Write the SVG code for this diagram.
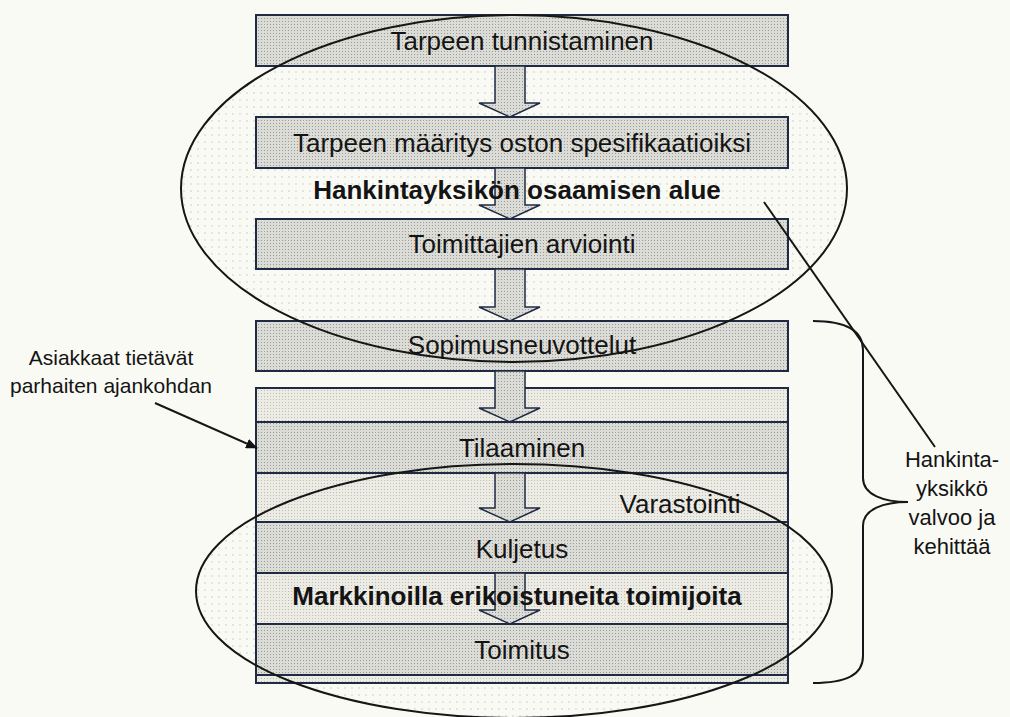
<svg xmlns="http://www.w3.org/2000/svg" width="1010" height="717" viewBox="0 0 1010 717">
  <defs>
    <pattern id="dense" width="3" height="3" patternUnits="userSpaceOnUse">
      <rect width="3" height="3" fill="#dcdcd6"/>
      <rect width="1" height="1" fill="#9a9a9a"/>
    </pattern>
    <pattern id="light" width="3" height="3" patternUnits="userSpaceOnUse">
      <rect width="3" height="3" fill="#ecebe4"/>
      <rect width="1" height="1" fill="#bdbdb8"/>
    </pattern>
    <pattern id="sparse" width="7" height="7" patternUnits="userSpaceOnUse">
      <circle cx="2" cy="2" r="0.7" fill="#bcbcb8"/>
    </pattern>
    <marker id="tip" viewBox="0 0 12 10" refX="11" refY="5" markerWidth="12" markerHeight="10" markerUnits="userSpaceOnUse" orient="auto">
      <path d="M0,0 L12,5 L0,10 Z" fill="#111"/>
    </marker>
  </defs>
  <style>
    .box { fill: url(#dense); stroke: #1f2a44; stroke-width: 2; }
    .row-light { fill: url(#light); stroke: #1f2a44; stroke-width: 2; }
    .row-dark { fill: url(#dense); stroke: #1f2a44; stroke-width: 2; }
    .flow { fill: url(#dense); stroke: #1f2a44; stroke-width: 1.5; stroke-linejoin: miter; }
    .zone-fill { fill: url(#sparse); stroke: none; }
    .zone-line { fill: none; stroke: #161616; stroke-width: 2; }
    .lbl { font-family: "Liberation Sans", Arial, sans-serif; font-size: 26px; fill: #141414; text-anchor: middle; }
    .bold { font-weight: bold; }
    .note { font-family: "Liberation Sans", Arial, sans-serif; font-size: 21px; fill: #141414; text-anchor: middle; }
    .side { font-family: "Liberation Sans", Arial, sans-serif; font-size: 22px; fill: #141414; text-anchor: middle; }
    .wire { fill: none; stroke: #161616; stroke-width: 2; }
  </style>

  <!-- paper -->
  <rect width="1010" height="717" fill="#fafaf5"/>

  <!-- dotted interiors of the two areas -->
  <ellipse class="zone-fill" cx="514" cy="188.5" rx="333" ry="173.5"/>
  <ellipse class="zone-fill" cx="514" cy="591" rx="318" ry="127"/>

  <!-- process steps -->
  <g id="step-tunnistaminen">
    <rect class="box" x="256" y="15" width="532" height="51"/>
  </g>
  <g id="step-maaritys">
    <rect class="box" x="256" y="117" width="532" height="51"/>
  </g>
  <g id="step-arviointi">
    <rect class="box" x="256" y="219" width="532" height="50"/>
  </g>
  <g id="step-sopimus">
    <rect class="box" x="256" y="321" width="532" height="50"/>
  </g>
  <g id="step-toteutus">
    <rect class="row-light" x="256" y="388" width="532" height="34"/>
    <rect class="row-dark" x="256" y="422" width="532" height="51"/>
    <rect class="row-light" x="256" y="473" width="532" height="49"/>
    <rect class="row-dark" x="256" y="522" width="532" height="51"/>
    <rect class="row-light" x="256" y="573" width="532" height="51"/>
    <rect class="row-dark" x="256" y="624" width="532" height="51"/>
    <rect class="row-light" x="256" y="675" width="532" height="8"/>
  </g>

  <!-- connectors -->
  <g id="connectors">
    <path class="flow" d="M495,66 L525,66 L525,103 L540,103 L510,117 L479,103 L495,103 Z"/>
    <path class="flow" d="M495,168 L525,168 L525,205 L540,205 L510,219 L479,205 L495,205 Z"/>
    <path class="flow" d="M495,269 L525,269 L525,307 L540,307 L510,321 L479,307 L495,307 Z"/>
    <path class="flow" d="M495,371 L525,371 L525,408 L540,408 L510,422 L479,408 L495,408 Z"/>
    <path class="flow" d="M495,473 L525,473 L525,508 L540,508 L510,522 L479,508 L495,508 Z"/>
    <path class="flow" d="M495,573 L525,573 L525,610 L540,610 L510,624 L479,610 L495,610 Z"/>
    <line class="wire" x1="764" y1="202" x2="935" y2="447"/>
    <line class="wire" x1="155" y1="403" x2="257" y2="448" marker-end="url(#tip)"/>
    <path class="wire" d="M813,321 C846,321 863,330 863,350 L863,478 C863,495 884,502 908,502 C884,502 863,509 863,526 L863,656 C863,675 846,683 813,683"/>
  </g>

  <!-- area outlines -->
  <g id="area-hankintayksikko">
    <ellipse class="zone-line" cx="514" cy="188.5" rx="333" ry="173.5"/>
  </g>
  <g id="area-toimijat">
    <ellipse class="zone-line" cx="514" cy="591" rx="318" ry="127"/>
  </g>

  <!-- labels -->
  <g id="labels">
    <text class="lbl" x="522" y="50">Tarpeen tunnistaminen</text>
    <text class="lbl" x="522" y="152">Tarpeen määritys oston spesifikaatioiksi</text>
    <text class="lbl bold" x="517" y="199">Hankintayksikön osaamisen alue</text>
    <text class="lbl" x="522" y="253">Toimittajien arviointi</text>
    <text class="lbl" x="522" y="354">Sopimusneuvottelut</text>
    <text class="lbl" x="522" y="457">Tilaaminen</text>
    <text class="lbl" x="680" y="513">Varastointi</text>
    <text class="lbl" x="522" y="558">Kuljetus</text>
    <text class="lbl bold" x="517" y="605">Markkinoilla erikoistuneita toimijoita</text>
    <text class="lbl" x="522" y="659">Toimitus</text>
  </g>

  <g id="note-asiakkaat">
    <text class="note" x="111" y="365">Asiakkaat tietävät</text>
    <text class="note" x="111" y="393">parhaiten ajankohdan</text>
  </g>

  <g id="note-hankintayksikko">
    <text class="side" x="952" y="467">Hankinta-</text>
    <text class="side" x="952" y="496">yksikkö</text>
    <text class="side" x="952" y="525">valvoo ja</text>
    <text class="side" x="952" y="554">kehittää</text>
  </g>
</svg>
